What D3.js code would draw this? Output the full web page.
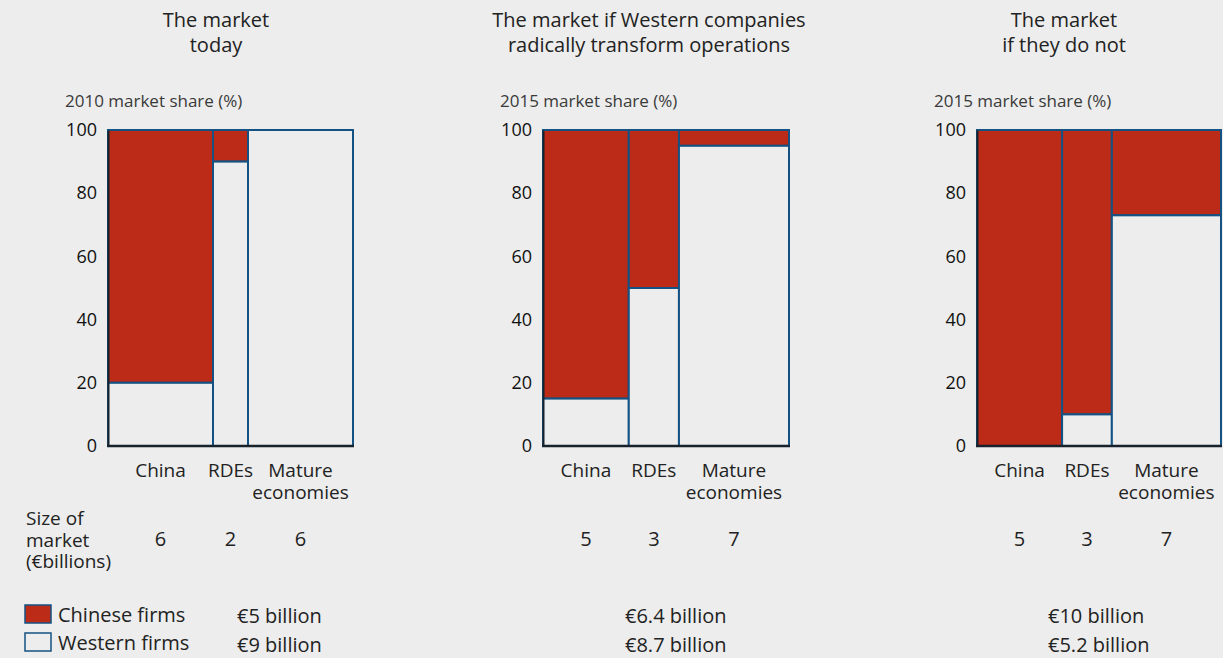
<!DOCTYPE html>
<html>
<head>
<meta charset="utf-8">
<style>
  html, body { margin: 0; padding: 0; background: #ecedec; }
  svg { display: block; font-family: "Open Sans", "Noto Sans", sans-serif; }
</style>
</head>
<body>
<svg width="1223" height="658"></svg>
<script src="https://cdn.jsdelivr.net/npm/d3@7"></script>
<script>

// regions along the x axis (labels can wrap over two lines)
var regions = [["China"], ["RDEs"], ["Mature", "economies"]];

// market size per region (€ billions) - widths
var size2010 = [6, 2, 6];
var size2015 = [5.3, 3.1, 6.8];
// printed size labels
var sizeLabels2010 = ["6", "2", "6"];
var sizeLabels2015 = ["5", "3", "7"];

// share held by Western firms (%), Chinese firms hold the rest
var westernToday = [20, 90, 100];
var westernTransform = [15, 50, 95];
var westernNot = [0, 10, 73];

// totals under each panel
var totalsToday = ["€5 billion", "€9 billion"];
var totalsTransform = ["€6.4 billion", "€8.7 billion"];
var totalsNot = ["€10 billion", "€5.2 billion"];

var yTicks = [0, 20, 40, 60, 80, 100];

var titles = [
  ["The market", "today"],
  ["The market if Western companies", "radically transform operations"],
  ["The market", "if they do not"]
];
var subtitles = ["2010 market share (%)", "2015 market share (%)", "2015 market share (%)"];

var red = "#bb2b18";
var bg = "#ecedec";
var edge = "#145283";
var dark = "#17222d";
var ink = "#222";

var svg = d3.select("svg");

var y = d3.scaleLinear().domain([0, 100]).range([446, 130]);

// layout of each panel (plot left/right, title centre, totals x)
var panels = [
  { left: 108, right: 353, titleX: 216, totalsX: 237, sizes: size2010, labels: sizeLabels2010, western: westernToday, totals: totalsToday },
  { left: 543, right: 789, titleX: 649, totalsX: 625, sizes: size2015, labels: sizeLabels2015, western: westernTransform, totals: totalsTransform },
  { left: 977, right: 1221, titleX: 1064, totalsX: 1048, sizes: size2015, labels: sizeLabels2015, western: westernNot, totals: totalsNot }
];

panels.forEach(function(p, pi) {
  var g = svg.append("g");

  var total = d3.sum(p.sizes);
  var x = d3.scaleLinear().domain([0, total]).range([p.left, p.right]);

  // cumulative start of each column
  var starts = [];
  var acc = 0;
  p.sizes.forEach(function(s) { starts.push(acc); acc += s; });

  var cols = p.sizes.map(function(s, i) {
    return { x0: x(starts[i]), x1: x(starts[i] + s), western: p.western[i], label: p.labels[i], region: regions[i] };
  });

  // title
  g.append("text")
    .attr("text-anchor", "middle")
    .attr("fill", ink)
    .style("font-size", "20px")
    .selectAll("tspan")
    .data(titles[pi])
    .enter()
    .append("tspan")
    .attr("x", p.titleX)
    .attr("y", function(d, i) { return 27 + i * 25; })
    .text(function(d) { return d; });

  // subtitle
  g.append("text")
    .attr("x", p.left - 43)
    .attr("y", 107)
    .attr("fill", "#3a3a3a")
    .style("font-size", "17px")
    .text(subtitles[pi]);

  // Chinese share (top part)
  g.selectAll("rect.cn")
    .data(cols.filter(function(d) { return d.western < 100; }))
    .enter()
    .append("rect")
    .attr("class", "cn")
    .attr("x", function(d) { return d.x0; })
    .attr("width", function(d) { return d.x1 - d.x0; })
    .attr("y", y(100))
    .attr("height", function(d) { return y(d.western) - y(100); })
    .attr("fill", red)
    .attr("stroke", edge)
    .attr("stroke-width", 2);

  // Western share (bottom part)
  g.selectAll("rect.we")
    .data(cols.filter(function(d) { return d.western > 0; }))
    .enter()
    .append("rect")
    .attr("class", "we")
    .attr("x", function(d) { return d.x0; })
    .attr("width", function(d) { return d.x1 - d.x0; })
    .attr("y", function(d) { return y(d.western); })
    .attr("height", function(d) { return y(0) - y(d.western); })
    .attr("fill", bg)
    .attr("stroke", edge)
    .attr("stroke-width", 2);

  // y axis
  var yAxis = d3.axisLeft(y).tickValues(yTicks).tickSize(0).tickPadding(11);
  var ya = g.append("g")
    .attr("transform", "translate(" + p.left + ",0)")
    .call(yAxis);
  ya.select(".domain").attr("stroke", dark).attr("stroke-width", 2);
  ya.selectAll("text")
    .attr("fill", "#111")
    .style("font-size", "18px")
    .style("font-family", "\"Open Sans\", sans-serif");

  // baseline
  g.append("line")
    .attr("x1", p.left - 1)
    .attr("x2", p.right + 1)
    .attr("y1", y(0))
    .attr("y2", y(0))
    .attr("stroke", dark)
    .attr("stroke-width", 2.5);

  // category labels
  var cat = g.selectAll("text.cat")
    .data(cols)
    .enter()
    .append("text")
    .attr("class", "cat")
    .attr("text-anchor", "middle")
    .attr("fill", ink)
    .style("font-size", "19px");
  cat.selectAll("tspan")
    .data(function(d) { return d.region.map(function(r) { return { r: r, cx: (d.x0 + d.x1) / 2 }; }); })
    .enter()
    .append("tspan")
    .attr("x", function(d) { return d.cx; })
    .attr("y", function(d, i) { return 477 + i * 22; })
    .text(function(d) { return d.r; });

  // market size values
  g.selectAll("text.size")
    .data(cols)
    .enter()
    .append("text")
    .attr("class", "size")
    .attr("text-anchor", "middle")
    .attr("x", function(d) { return (d.x0 + d.x1) / 2; })
    .attr("y", 546)
    .attr("fill", ink)
    .style("font-size", "20px")
    .text(function(d) { return d.label; });

  // totals
  g.selectAll("text.total")
    .data(p.totals)
    .enter()
    .append("text")
    .attr("class", "total")
    .attr("x", p.totalsX)
    .attr("y", function(d, i) { return 623 + i * 29; })
    .attr("fill", ink)
    .style("font-size", "20px")
    .text(function(d) { return d; });
});

// "Size of market" row label
svg.append("text")
  .attr("fill", ink)
  .style("font-size", "19px")
  .selectAll("tspan")
  .data(["Size of", "market", "(€billions)"])
  .enter()
  .append("tspan")
  .attr("x", 26)
  .attr("y", function(d, i) { return 525 + i * 21.5; })
  .text(function(d) { return d; });

// legend
var legend = [
  { name: "Chinese firms", fill: red },
  { name: "Western firms", fill: bg }
];
var lg = svg.selectAll("g.legend")
  .data(legend)
  .enter()
  .append("g")
  .attr("class", "legend")
  .attr("transform", function(d, i) { return "translate(25," + (605 + i * 28) + ")"; });
lg.append("rect")
  .attr("width", 26)
  .attr("height", 18)
  .attr("fill", function(d) { return d.fill; })
  .attr("stroke", edge)
  .attr("stroke-width", 1.5);
lg.append("text")
  .attr("x", 33)
  .attr("y", 17)
  .attr("fill", ink)
  .style("font-size", "20px")
  .text(function(d) { return d.name; });

</script>
</body>
</html>
